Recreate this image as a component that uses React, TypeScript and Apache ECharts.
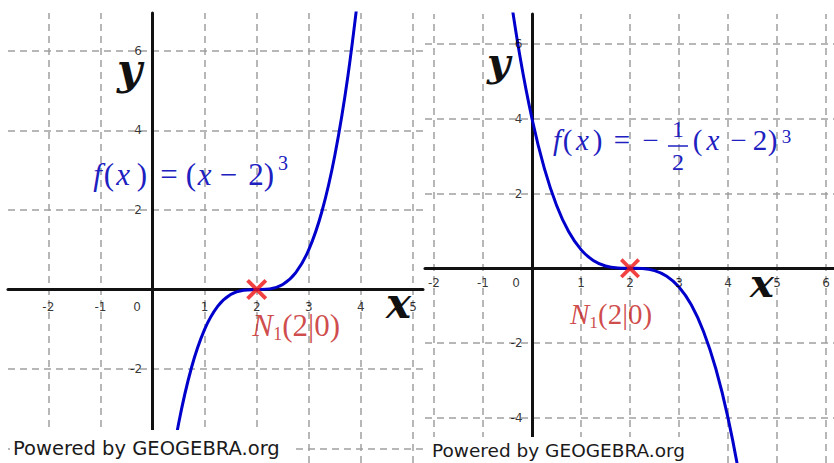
import React, { useEffect, useRef } from "react";
import * as echarts from "echarts";

// Left plot: f(x) = (x - 2)^3, sampled values
const leftX = [0.25, 0.5, 0.75, 1, 1.25, 1.5, 1.75, 2, 2.25, 2.5, 2.75, 3, 3.25, 3.5, 3.75, 4];
const leftY = [-5.359, -3.375, -1.953, -1, -0.422, -0.125, -0.016, 0, 0.016, 0.125, 0.422, 1, 1.953, 3.375, 5.359, 8];

// Right plot: f(x) = -1/2 (x - 2)^3, sampled values
const rightX = [-0.5, -0.25, 0, 0.25, 0.5, 0.75, 1, 1.25, 1.5, 1.75, 2, 2.25, 2.5, 2.75, 3, 3.25, 3.5, 3.75, 4, 4.25, 4.5];
const rightY = [7.813, 5.695, 4, 2.68, 1.688, 0.977, 0.5, 0.211, 0.063, 0.008, 0, -0.008, -0.063, -0.211, -0.5, -0.977, -1.688, -2.68, -4, -5.695, -7.813];

// The zero N1(2|0) of both functions
const zeroPoint = [2, 0];
const origin = [0, 0];

// Tick labels and grid positions
const leftXTicks = [-2, -1, 1, 2, 3, 4, 5];
const leftYTicks = [-2, 2, 4, 6];
const rightXTicks = [-2, -1, 1, 2, 3, 4, 5, 6];
const rightYTicks = [-4, -2, 2, 4, 6];
const leftXGrid = [-2, -1, 0, 1, 2, 3, 4, 5];
const leftYGrid = [-4, -2, 0, 2, 4, 6];
const rightXGrid = [-2, -1, 0, 1, 2, 3, 4, 5, 6];
const rightYGrid = [-4, -2, 0, 2, 4, 6];

const BLUE = "#0000cc";
const TEXT_BLUE = "#2020c0";
const RED = "#ee1111";
const TEXT_RED = "#c41c1c";
const GRID = "#a0a0a0";
const SERIF = "'Liberation Serif', 'DejaVu Serif', serif";
const SANS = "'DejaVu Sans', sans-serif";

const crossSymbol =
  "path://M0,2.6 L2.6,0 L10,7.4 L17.4,0 L20,2.6 L12.6,10 L20,17.4 L17.4,20 L10,12.6 L2.6,20 L0,17.4 L7.4,10 Z";

function axisPair(gridIndex: number, xr: number[], yr: number[]) {
  const line = { onZero: true, lineStyle: { color: "#111", width: 3 } };
  const common = {
    type: "value", gridIndex, z: 4,
    axisLine: line, axisTick: { show: false }, splitLine: { show: false },
    axisLabel: { show: false },
  };
  return {
    x: { ...common, min: xr[0], max: xr[1] },
    y: { ...common, min: yr[0], max: yr[1] },
  };
}

function gridSeries(idx: number, xs: number[], ys: number[]) {
  return {
    type: "line", xAxisIndex: idx, yAxisIndex: idx, data: [], silent: true,
    markLine: {
      silent: true, symbol: "none", z: 1, animation: false,
      label: { show: false },
      lineStyle: { type: [7, 5], color: GRID, width: 1.5 },
      data: [...xs.map((v) => ({ xAxis: v })), ...ys.map((v) => ({ yAxis: v }))],
    },
  };
}

function curveSeries(idx: number, xs: number[], ys: number[]) {
  return {
    type: "line", xAxisIndex: idx, yAxisIndex: idx, z: 5,
    data: xs.map((x, i) => [x, ys[i]]),
    smooth: 0.35, showSymbol: false, clip: true,
    lineStyle: { color: BLUE, width: 3 },
  };
}

// tick numbers drawn at the axis values, positioned like GeoGebra's labels
function tickSeries(idx: number, values: number[], onX: boolean, pos: number[], align: string) {
  return {
    type: "scatter", xAxisIndex: idx, yAxisIndex: idx, z: 6, silent: true,
    data: values.map((v) => (onX ? [v, 0] : [0, v])),
    symbolSize: 1, itemStyle: { color: "rgba(0,0,0,0)" },
    label: {
      show: true, position: pos, align, verticalAlign: "middle",
      formatter: (p: any) => String(onX ? p.value[0] : p.value[1]),
      fontFamily: SANS, fontSize: 12, lineHeight: 12, color: "#000",
    },
  };
}

function originSeries(idx: number, pos: number[]) {
  return {
    type: "scatter", xAxisIndex: idx, yAxisIndex: idx, z: 6, silent: true,
    data: [origin], symbolSize: 1, itemStyle: { color: "rgba(0,0,0,0)" },
    label: {
      show: true, formatter: "0", position: pos, align: "center", verticalAlign: "middle",
      fontFamily: SANS, fontSize: 12, lineHeight: 12, color: "#000",
    },
  };
}

function zeroSeries(idx: number, size: number, font: number, pos: number[]) {
  return {
    type: "scatter", xAxisIndex: idx, yAxisIndex: idx, z: 7,
    data: [zeroPoint], symbol: crossSymbol, symbolSize: size,
    itemStyle: { color: RED },
    label: {
      show: true, position: pos, align: "left", verticalAlign: "middle",
      formatter: "{i|N}{s|1}{r|(2|0)}",
      rich: {
        i: { fontFamily: SERIF, fontStyle: "italic", fontSize: font, color: TEXT_RED, lineHeight: font + 4 },
        s: { fontFamily: SERIF, fontSize: font * 0.6, color: TEXT_RED, lineHeight: font * 0.55, verticalAlign: "bottom" },
        r: { fontFamily: SERIF, fontSize: font, color: TEXT_RED, lineHeight: font + 4 },
      },
    },
  };
}

function textEl(x: number, y: number, text: string, font: string, fill: string, align = "left") {
  return {
    type: "text", x, y, z: 10,
    style: { text, font, fill, align, verticalAlign: "middle", textAlign: align, textVerticalAlign: "middle" },
  };
}

// formula glyph groups, each centred on its x: [x, text, italic?]
type Piece = [number, string, boolean];
function mathPieces(pieces: Piece[], middleY: number, size: number) {
  return pieces.map(([x, t, it]) =>
    textEl(x, middleY, t, `${it ? "italic " : ""}${size}px ${SERIF}`, TEXT_BLUE, "center"),
  );
}

export default function App() {
  const ref = useRef<HTMLDivElement>(null);

  useEffect(() => {
    if (!ref.current) return;
    const chart = echarts.init(ref.current, null, { renderer: "svg" });

    const L = axisPair(0, [-2.774, 5.192], [-4.359, 6.947]);
    const R = axisPair(1, [-2.184, 6.163], [-5.206, 6.8]);

    const leftFormula: Piece[] = [
      [97.5, "f", true], [109, "(", false], [123, "x", true], [142, ")", false],
      [169, "=", false], [191, "(", false], [204.5, "x", true], [228.5, "−", false],
      [256, "2", false], [269, ")", false],
    ];
    const rightFormulaA: Piece[] = [
      [557, "f", true], [567.5, "(", false], [582.5, "x", true], [597.5, ")", false],
      [622, "=", false], [650.5, "−", false],
    ];
    const rightFormulaB: Piece[] = [
      [697.5, "(", false], [713, "x", true], [738.5, "−", false], [760, "2", false], [772.5, ")", false],
    ];

    chart.setOption({
      animation: false,
      backgroundColor: "#ffffff",
      grid: [
        { left: 8, top: 13, width: 415, height: 450, containLabel: false, outerBoundsMode: "none" },
        { left: 425, top: 14, width: 409, height: 449, containLabel: false, outerBoundsMode: "none" },
      ],
      xAxis: [L.x, R.x],
      yAxis: [L.y, R.y],
      series: [
        gridSeries(0, leftXGrid, leftYGrid),
        gridSeries(1, rightXGrid, rightYGrid),
        curveSeries(0, leftX, leftY),
        curveSeries(1, rightX, rightY),
        tickSeries(0, leftXTicks, true, [0.5, 18], "center"),
        tickSeries(0, leftYTicks, false, [-10, 0.5], "right"),
        tickSeries(1, rightXTicks, true, [0.5, 15.2], "center"),
        tickSeries(1, rightYTicks, false, [-9, 0.5], "right"),
        originSeries(0, [-15, 18]),
        originSeries(1, [-15.5, 15.2]),
        zeroSeries(0, 21, 31, [6, 46]),
        zeroSeries(1, 20, 29, [-50, 56]),
      ],
      graphic: {
        elements: [
          // axis names
          textEl(117, 69, "y", "bold italic 43px 'DejaVu Serif', serif", "#111"),
          textEl(386, 303, "x", "bold italic 42px 'DejaVu Serif', serif", "#111"),
          textEl(487, 61, "y", "bold italic 40px 'DejaVu Serif', serif", "#111"),
          textEl(750, 282, "x", "bold italic 40px 'DejaVu Serif', serif", "#111"),
          // left formula  f(x) = (x − 2)³
          ...mathPieces(leftFormula, 174.5, 31),
          textEl(283, 163, "3", `20px ${SERIF}`, TEXT_BLUE, "center"),
          // right formula  f(x) = −½(x − 2)³
          ...mathPieces(rightFormulaA, 139.6, 29),
          textEl(678, 128.8, "1", `24px ${SERIF}`, TEXT_BLUE, "center"),
          {
            type: "line", z: 10,
            shape: { x1: 668, y1: 146, x2: 688, y2: 146 },
            style: { stroke: TEXT_BLUE, lineWidth: 1.5 },
          },
          textEl(678, 161.8, "2", `24px ${SERIF}`, TEXT_BLUE, "center"),
          ...mathPieces(rightFormulaB, 139.6, 29),
          textEl(786.5, 136, "3", `19px ${SERIF}`, TEXT_BLUE, "center"),
          // footer boxes
          { type: "rect", z: 20, shape: { x: 10, y: 430, width: 282, height: 33 }, style: { fill: "#ffffff" } },
          { type: "rect", z: 20, shape: { x: 428, y: 437, width: 264, height: 26 }, style: { fill: "#ffffff" } },
          { ...textEl(13, 448.3, "Powered by GEOGEBRA.org", `19.5px ${SANS}`, "#1a1a1a"), z: 21 },
          { ...textEl(432, 450, "Powered by GEOGEBRA.org", `18.5px ${SANS}`, "#1a1a1a"), z: 21 },
        ],
      },
    });

    return () => chart.dispose();
  }, []);

  return (
    <div
      ref={ref}
      style={{ position: "absolute", left: 0, top: 0, width: 834, height: 463, background: "#fff" }}
    />
  );
}
